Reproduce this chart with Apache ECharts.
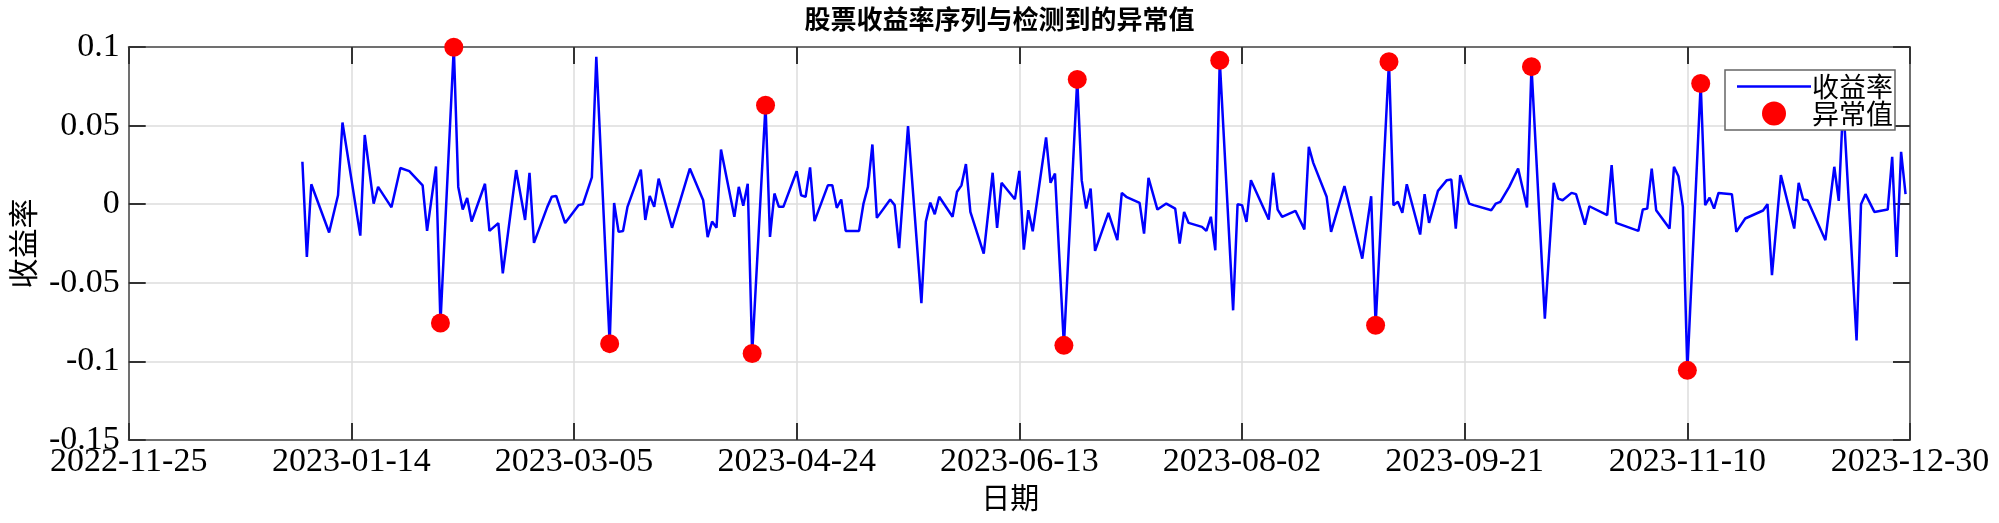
<!DOCTYPE html>
<html>
<head>
<meta charset="utf-8">
<script src="https://cdn.jsdelivr.net/npm/echarts@6/dist/echarts.min.js"></script>
<style>
html,body{margin:0;padding:0;background:#fff;}
#chart{width:1999px;height:523px;}
</style>
</head>
<body>
<div id="chart"></div>
<script>
// x positions: days after 2022-11-25 (axis start)
const dayFromStart = [39,40,41,45,47,48,52,53,55,56,59,61,63,66,67,69,70,73,74,75,76,77,80,81,83,84,87,89,90,91,94,95,96,98,101,102,104,105,108,109,110,111,112,115,116,117,118,119,122,126,129,130,131,132,133,136,137,138,139,140,143,144,145,146,147,150,151,152,153,154,157,158,159,160,161,164,165,166,167,168,171,172,173,175,178,179,180,181,182,185,186,187,188,189,192,194,195,196,199,200,201,202,203,206,207,208,210,213,214,215,216,217,220,222,223,224,227,228,229,231,233,235,236,237,238,241,242,243,244,245,248,249,250,251,252,256,257,258,259,262,264,265,266,269,270,273,277,279,280,283,284,285,286,287,290,291,292,294,296,297,298,299,301,302,306,307,308,310,312,314,315,318,320,321,322,324,325,327,328,332,333,334,339,340,341,342,343,346,347,348,349,350,353,354,355,356,357,360,361,363,367,368,369,371,374,375,376,377,381,383,384,385,388,389,390,392,395,396,397,398,399];
const returns = [0.027,-0.0335,0.0127,-0.018,0.0057,0.052,-0.020,0.044,0.0004,0.011,-0.002,0.023,0.021,0.012,-0.017,0.024,-0.0756,0.0998,0.011,-0.0034,0.004,-0.011,0.013,-0.017,-0.012,-0.044,0.0217,-0.010,0.020,-0.0246,-0.0017,0.0047,0.0053,-0.012,-0.0006,0,0.017,0.0938,-0.0887,0.0008,-0.0176,-0.017,-0.0017,0.022,-0.010,0.0053,-0.0017,0.0163,-0.015,0.0227,0.0025,-0.021,-0.011,-0.015,0.0348,-0.008,0.011,-0.001,0.013,-0.095,0.063,-0.0208,0.0068,-0.0017,-0.0017,0.021,0.0057,0.0047,0.0234,-0.0108,0.012,0.012,-0.0023,0.003,-0.017,-0.017,0.0004,0.011,0.038,-0.0087,0.003,-0.0006,-0.028,0.0497,-0.063,-0.011,0.001,-0.0064,0.0047,-0.008,0.0079,0.012,0.0255,-0.0049,-0.0314,0.02,-0.015,0.0136,0.0032,0.0212,-0.0289,-0.0038,-0.0172,0.0425,0.0136,0.0195,-0.0898,0.0794,0.0153,-0.0028,0.01,-0.0297,-0.0055,-0.0229,0.0072,0.0047,0.0008,-0.0187,0.0168,-0.0034,0.0004,-0.0028,-0.025,-0.0049,-0.0119,-0.0144,-0.017,-0.008,-0.0293,0.0915,-0.0675,0,-0.0006,-0.0112,0.0153,-0.0098,0.02,-0.0034,-0.008,-0.0042,-0.016,0.0365,0.0263,0.0047,-0.0176,0.0115,-0.0346,0.0051,-0.077,0.0906,-0.0006,0.0015,-0.0055,0.0127,-0.0193,0.0064,-0.0119,0.0085,0.0153,0.0157,-0.0155,0.0185,0.0004,-0.0006,-0.0038,0.0004,0.0015,0.011,0.0227,-0.0021,0.0875,-0.0728,0.0136,0.0036,0.0025,0.0072,0.0064,-0.013,-0.0013,-0.007,0.0248,-0.0119,-0.017,-0.0034,-0.0028,0.0227,-0.0038,-0.0155,0.0238,0.0178,-0.0017,-0.1057,0.0768,-0.0006,0.0042,-0.0028,0.0072,0.0064,-0.0176,-0.0091,-0.004,0,-0.0452,0.0185,-0.0155,0.0136,0.003,0.0025,-0.0229,0.0238,0.0021,0.065,-0.0866,0,0.0064,-0.0049,-0.0034,0.0301,-0.0335,0.0333,0.0064];
const anomalyDays = [70,73,108,140,143,210,213,245,280,283,315,350,353];
const anomalyValues = [-0.0756,0.0998,-0.0887,-0.095,0.063,-0.0898,0.0794,0.0915,-0.077,0.0906,0.0875,-0.1057,0.0768];
const xTickLabels = ['2022-11-25','2023-01-14','2023-03-05','2023-04-24','2023-06-13','2023-08-02','2023-09-21','2023-11-10','2023-12-30'];
const yTicks = [-0.15,-0.1,-0.05,0,0.05,0.1];

const lineData = dayFromStart.map((d,i)=>[d, returns[i]]);
const dotData = anomalyDays.map((d,i)=>[d, anomalyValues[i]]);

const serif = 'Liberation Serif';
const cjk = 'Noto Sans CJK SC';
const axisLineStyle = {color:'#707070', width:2};
const tickStyle = {color:'#333', width:2};

const chart = echarts.init(document.getElementById('chart'), null, {renderer:'canvas'});
chart.setOption({
  animation:false,
  backgroundColor:'#fff',
  title:{
    text:'股票收益率序列与检测到的异常值',
    left:'center', top:1,
    textStyle:{fontFamily:cjk, fontSize:26, fontWeight:'bold', color:'#000'}
  },
  legend:{
    orient:'vertical',
    left:1725, top:70,
    padding:[3,2,3,12],
    itemGap:0,
    itemWidth:74, itemHeight:24,
    backgroundColor:'#fff',
    borderColor:'#666', borderWidth:1.5,
    textStyle:{fontFamily:cjk, fontSize:27, lineHeight:27, color:'#000', padding:[0,0,0,-4]},
    data:[
      {name:'收益率', icon:'path://M0,0H100V3.4H0Z', itemStyle:{color:'#0000ff'}},
      {name:'异常值', icon:'circle'}
    ],
    z:10
  },
  grid:{left:124, right:89, top:47, bottom:83, containLabel:false},
  xAxis:[{
    type:'value', min:0, max:400, interval:50,
    name:'日期', nameLocation:'middle', nameGap:42,
    nameTextStyle:{fontFamily:cjk, fontSize:29, color:'#000', padding:[0,18,0,0]},
    axisLine:{show:true, onZero:false, lineStyle:axisLineStyle},
    axisTick:{show:true, inside:true, length:17, lineStyle:tickStyle},
    axisLabel:{fontFamily:serif, fontSize:34, color:'#000', margin:5,
      formatter:(v)=>xTickLabels[Math.round(v/50)]},
    splitLine:{show:true, lineStyle:{color:'#dcdcdc', width:1.5}}
  },{
    type:'value', min:0, max:400, interval:50, position:'top',
    axisLine:{show:true, onZero:false, lineStyle:axisLineStyle},
    axisTick:{show:true, inside:true, length:17, lineStyle:tickStyle},
    axisLabel:{show:false}, splitLine:{show:false}
  }],
  yAxis:[{
    type:'value', min:yTicks[0], max:yTicks[yTicks.length-1], interval:0.05,
    name:'收益率', nameLocation:'middle', nameGap:73, nameRotate:90,
    nameTextStyle:{fontFamily:cjk, fontSize:30, color:'#000'},
    axisLine:{show:true, onZero:false, lineStyle:axisLineStyle},
    axisTick:{show:true, inside:true, length:17, lineStyle:tickStyle},
    axisLabel:{fontFamily:serif, fontSize:34, color:'#000', margin:9},
    splitLine:{show:true, lineStyle:{color:'#dcdcdc', width:1.5}}
  },{
    type:'value', min:yTicks[0], max:yTicks[yTicks.length-1], interval:0.05, position:'right',
    axisLine:{show:true, onZero:false, lineStyle:axisLineStyle},
    axisTick:{show:true, inside:true, length:17, lineStyle:tickStyle},
    axisLabel:{show:false}, splitLine:{show:false}
  }],
  series:[{
    name:'收益率', type:'line', data:lineData,
    xAxisIndex:0, yAxisIndex:0,
    symbol:'none', lineStyle:{color:'#0000ff', width:2.5}, itemStyle:{color:'#0000ff'},
    z:2
  },{
    name:'异常值', type:'scatter', data:dotData,
    xAxisIndex:0, yAxisIndex:0,
    symbol:'circle', symbolSize:19, itemStyle:{color:'#ff0000', opacity:1},
    z:3
  }]
});
</script>
</body>
</html>
